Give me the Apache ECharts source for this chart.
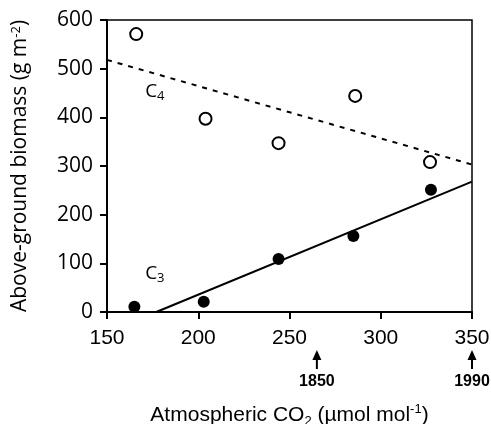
<!DOCTYPE html>
<html><head><meta charset="utf-8">
<script src="https://cdn.jsdelivr.net/npm/echarts@6/dist/echarts.min.js"></script>
<style>html,body{margin:0;padding:0;background:#fff}#c{width:491px;height:424px}</style>
</head><body><div id="c"></div>
<script>
// Data
var c4Points = [[166, 571], [204, 397], [244, 347], [286, 444], [327, 308]];
var c3Points = [[165, 11], [203, 21], [244, 109], [285, 156], [327.5, 251]];
var c4Fit = [[150, 518], [350, 303]];
var c3Fit = [[177, 0], [350, 268]];
var xTicks = [150, 200, 250, 300, 350];
var yTicks = [0, 100, 200, 300, 400, 500, 600];
var yearMarks = [{x: 265, label: '1850'}, {x: 350, label: '1990'}];
var typeLabels = [{x: 172, y: 452, main: 'C', sub: '4'}, {x: 172, y: 78, main: 'C', sub: '3'}];

var chart = echarts.init(document.getElementById('c'));
var humanist = '"Open Sans", "Noto Sans", sans-serif';
var arial = '"Liberation Sans", Arial, sans-serif';

var option = {
  animation: false,
  grid: {left: 107, right: 19, top: 20, bottom: 112, show: true, borderColor: '#000', borderWidth: 1.5,
    containLabel: false, outerBoundsMode: 'none'},
  xAxis: {
    type: 'value', min: 150, max: 350, interval: 50,
    axisLine: {lineStyle: {color: '#000', width: 2}},
    axisTick: {inside: false, length: 7, lineStyle: {color: '#000', width: 2}},
    axisLabel: {color: '#000', fontFamily: arial, fontSize: 21, margin: 16},
    splitLine: {show: false},
    name: '{t|Atmospheric CO}{sub|2}{t| (µmol mol}{sup|-1}{t|)}',
    nameLocation: 'middle', nameGap: 91,
    nameTextStyle: {
      rich: {
        t: {fontFamily: arial, fontSize: 21, color: '#000'},
        sub: {fontFamily: arial, fontSize: 13, color: '#000', verticalAlign: 'bottom', padding: [12, 0, 0, 0]},
        sup: {fontFamily: arial, fontSize: 13, color: '#000', verticalAlign: 'top', padding: [0, 0, 7, 0]}
      }
    }
  },
  yAxis: {
    type: 'value', min: 0, max: 600, interval: 100,
    axisLine: {show: true, lineStyle: {color: '#000', width: 2}},
    axisTick: {show: true, inside: false, length: 7, lineStyle: {color: '#000', width: 2}},
    axisLabel: {color: '#000', fontFamily: humanist, fontSize: 21, margin: 14},
    splitLine: {show: false},
    name: '{t|Above-ground biomass (g m}{sup|-2}{t|)}',
    nameLocation: 'middle', nameGap: 76, nameRotate: 90,
    nameTextStyle: {
      rich: {
        t: {fontFamily: humanist, fontSize: 21, color: '#000'},
        sup: {fontFamily: humanist, fontSize: 13, color: '#000', verticalAlign: 'top', padding: [0, 0, 7, 0]}
      }
    }
  },
  series: [
    {type: 'line', data: c4Fit, symbol: 'none', lineStyle: {color: '#000', width: 2, type: [5, 6]}, z: 2},
    {type: 'line', data: c3Fit, symbol: 'none', lineStyle: {color: '#000', width: 2}, z: 2},
    {type: 'scatter', data: c4Points, symbol: 'circle', symbolSize: 12,
      itemStyle: {color: '#fff', borderColor: '#000', borderWidth: 2, opacity: 1}, z: 3},
    {type: 'scatter', data: c3Points, symbol: 'circle', symbolSize: 12,
      itemStyle: {color: '#000', opacity: 1}, z: 3}
  ]
};
chart.setOption(option);

function addGraphics() {
  var els = [];
  var axisY = chart.convertToPixel({gridIndex: 0}, [150, 0])[1];
  yearMarks.forEach(function (m) {
    var px = chart.convertToPixel({gridIndex: 0}, [m.x, 0])[0];
    els.push({type: 'line', shape: {x1: px, y1: axisY + 46, x2: px, y2: axisY + 57}, style: {stroke: '#000', lineWidth: 2}});
    els.push({type: 'polygon', shape: {points: [[px, axisY + 38], [px - 4.5, axisY + 48], [px + 4.5, axisY + 48]]}, style: {fill: '#000'}});
    els.push({type: 'text', x: px, y: axisY + 70, style: {text: m.label, fontFamily: arial, fontWeight: 'bold', fontSize: 16, fill: '#000', align: 'center', verticalAlign: 'middle'}});
  });
  typeLabels.forEach(function (l) {
    var p = chart.convertToPixel({gridIndex: 0}, [l.x, l.y]);
    els.push({type: 'text', x: p[0] - 2, y: p[1], style: {
      text: '{m|' + l.main + '}{s|' + l.sub + '}',
      align: 'left', verticalAlign: 'middle',
      rich: {
        m: {fontFamily: humanist, fontSize: 19, fill: '#000'},
        s: {fontFamily: humanist, fontSize: 13, fill: '#000', verticalAlign: 'bottom', padding: [9, 0, 0, 0]}
      }
    }});
  });
  chart.setOption({graphic: els});
}
addGraphics();
</script>
</body></html>
